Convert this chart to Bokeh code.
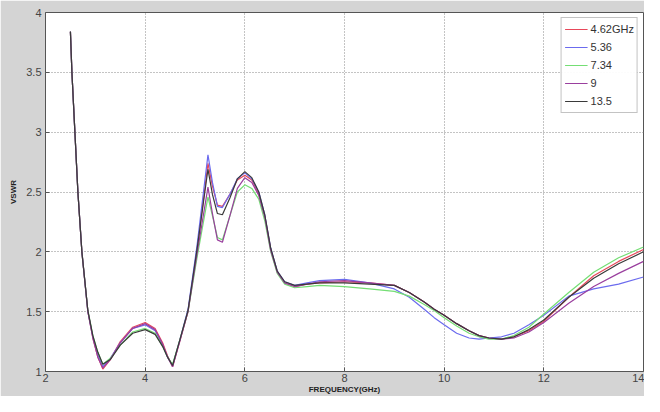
from bokeh.plotting import figure
from bokeh.models import FixedTicker, CustomJSTickFormatter, Legend, LegendItem
from bokeh.embed import file_html
from bokeh.resources import INLINE

freq = [2.5, 2.53, 2.59, 2.65, 2.73, 2.85, 2.95, 3.05, 3.15, 3.3, 3.5, 3.75, 4.0, 4.2, 4.35, 4.45, 4.55,
        4.7, 4.86, 5.04, 5.26, 5.35, 5.45, 5.55, 5.7, 5.85, 6.0, 6.14, 6.28, 6.4, 6.52, 6.65, 6.8, 7.0,
        7.25, 7.5, 8.0, 8.5, 9.0, 9.3, 9.6, 9.8, 10.0, 10.25, 10.5, 10.7, 10.9, 11.15, 11.4, 11.7, 12.0,
        12.5, 13.0, 13.5, 14.0]

vswr_462 = [3.84, 3.50, 3.00, 2.50, 2.00, 1.50, 1.28, 1.12, 1.02, 1.10, 1.25, 1.37, 1.41, 1.36, 1.24, 1.13, 1.04,
            1.26, 1.50, 2.00, 2.74, 2.55, 2.39, 2.38, 2.48, 2.60, 2.64, 2.60, 2.48, 2.30, 2.02, 1.83, 1.74, 1.71,
            1.73, 1.74, 1.75, 1.74, 1.72, 1.66, 1.58, 1.52, 1.47, 1.40, 1.34, 1.30, 1.28, 1.27, 1.29, 1.34, 1.42,
            1.62, 1.80, 1.92, 2.02]
vswr_536 = [3.84, 3.50, 3.00, 2.50, 2.00, 1.50, 1.29, 1.14, 1.04, 1.11, 1.24, 1.36, 1.39, 1.34, 1.22, 1.12, 1.05,
            1.27, 1.52, 2.05, 2.81, 2.58, 2.38, 2.37, 2.48, 2.61, 2.66, 2.61, 2.50, 2.31, 2.03, 1.84, 1.75, 1.72,
            1.74, 1.76, 1.77, 1.74, 1.69, 1.62, 1.52, 1.45, 1.39, 1.32, 1.28, 1.27, 1.28, 1.29, 1.32, 1.39, 1.47,
            1.63, 1.69, 1.73, 1.79]
vswr_734 = [3.84, 3.50, 3.00, 2.50, 2.00, 1.51, 1.30, 1.16, 1.06, 1.11, 1.22, 1.33, 1.36, 1.32, 1.21, 1.12, 1.06,
            1.27, 1.50, 1.95, 2.46, 2.30, 2.12, 2.10, 2.30, 2.50, 2.56, 2.53, 2.44, 2.26, 2.00, 1.82, 1.73, 1.70,
            1.71, 1.72, 1.71, 1.69, 1.67, 1.63, 1.56, 1.51, 1.45, 1.38, 1.32, 1.29, 1.27, 1.27, 1.30, 1.37, 1.48,
            1.66, 1.83, 1.95, 2.04]
vswr_9 = [3.84, 3.50, 3.00, 2.50, 2.00, 1.50, 1.28, 1.12, 1.03, 1.10, 1.24, 1.36, 1.40, 1.35, 1.23, 1.12, 1.04,
          1.26, 1.50, 1.98, 2.54, 2.32, 2.10, 2.08, 2.30, 2.53, 2.62, 2.58, 2.47, 2.29, 2.01, 1.83, 1.74, 1.71,
          1.73, 1.75, 1.76, 1.74, 1.72, 1.66, 1.58, 1.52, 1.47, 1.40, 1.34, 1.30, 1.28, 1.27, 1.28, 1.33, 1.41,
          1.57, 1.71, 1.82, 1.92]
vswr_135 = [3.84, 3.50, 3.00, 2.50, 2.00, 1.51, 1.30, 1.16, 1.06, 1.10, 1.22, 1.32, 1.35, 1.31, 1.21, 1.12, 1.05,
            1.27, 1.51, 2.02, 2.69, 2.48, 2.32, 2.31, 2.45, 2.61, 2.67, 2.62, 2.50, 2.31, 2.03, 1.84, 1.75, 1.72,
            1.73, 1.74, 1.74, 1.73, 1.72, 1.66, 1.58, 1.52, 1.47, 1.40, 1.34, 1.30, 1.28, 1.27, 1.29, 1.35, 1.43,
            1.62, 1.78, 1.90, 2.00]

series_labels = ["4.62GHz", "5.36", "7.34", "9", "13.5"]
series_values = [vswr_462, vswr_536, vswr_734, vswr_9, vswr_135]
series_colors = ["#e8475a", "#6b6bee", "#74de74", "#9a3f9e", "#3a3a3a"]

x_ticks = [2, 4, 6, 8, 10, 12, 14]
y_ticks = [1, 1.5, 2, 2.5, 3, 3.5, 4]

FONT = "Liberation Sans"

p = figure(width=644, height=396, x_range=(2, 14), y_range=(1, 4),
           output_backend="svg", toolbar_location=None,
           min_border_left=45, min_border_right=1, min_border_top=12, min_border_bottom=24)
p.border_fill_color = "#d4d4d4"
p.background_fill_color = "white"
p.outline_line_color = "#555555"
p.outline_line_width = 1

items = []
for lab, vals, col in zip(series_labels, series_values, series_colors):
    r = p.line(freq, vals, line_color=col, line_width=1.2)
    items.append(LegendItem(label=lab, renderers=[r]))

legend = Legend(items=items, location="top_right")
legend.label_text_font = FONT
legend.label_text_font_size = "11px"
legend.label_text_color = "#333333"
legend.glyph_width = 23
legend.glyph_height = 16
legend.label_height = 16
legend.spacing = 2
legend.padding = 3
legend.margin = 5
legend.border_line_color = "#888888"
legend.background_fill_color = "white"
legend.label_standoff = 3
p.add_layout(legend)

for ax in (p.xaxis[0], p.yaxis[0]):
    ax.axis_line_color = None
    ax.major_tick_in = 4
    ax.major_tick_out = 0
    ax.minor_tick_line_color = None
    ax.major_tick_line_color = "#555555"
    ax.major_label_text_font = FONT
    ax.major_label_text_font_size = "11px"
    ax.major_label_text_color = "#444444"
    ax.axis_label_text_font = FONT
    ax.axis_label_text_font_size = "8px"
    ax.axis_label_text_font_style = "bold"
    ax.axis_label_text_color = "#222222"

p.xaxis.ticker = FixedTicker(ticks=x_ticks)
p.yaxis.ticker = FixedTicker(ticks=y_ticks)
p.xaxis.formatter = CustomJSTickFormatter(code="return String(tick);")
p.yaxis.formatter = CustomJSTickFormatter(code="return String(tick);")
p.xaxis.axis_label = "FREQUENCY(GHz)"
p.yaxis.axis_label = "VSWR"
p.xaxis.major_label_standoff = 2
p.yaxis.major_label_standoff = 4
p.xaxis.axis_label_standoff = 0
p.yaxis.axis_label_standoff = 5

p.grid.grid_line_color = "#888888"
p.grid.grid_line_dash = "1 2"
p.grid.grid_line_width = 1

open("out.html", "w").write(file_html(p, INLINE))
